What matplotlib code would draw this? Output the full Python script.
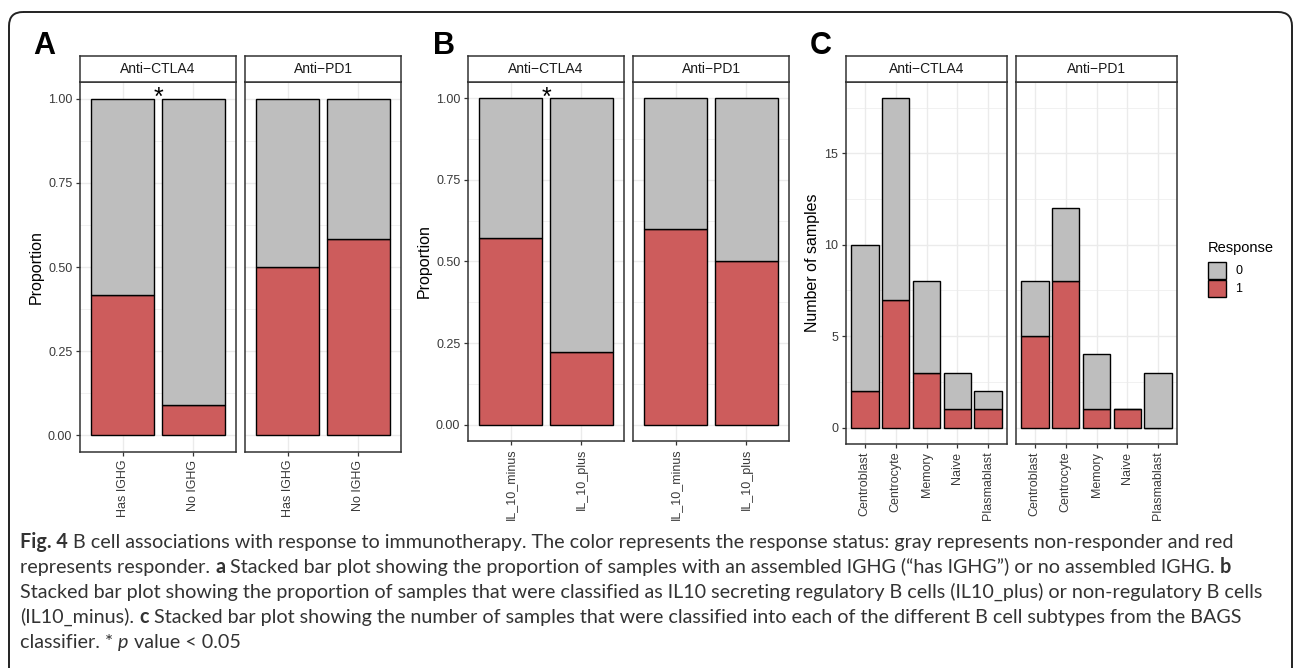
import matplotlib
matplotlib.use("Agg")
import matplotlib.pyplot as plt
from matplotlib.patches import FancyBboxPatch, Rectangle

# ----------- DATA ------------
treatments = ["Anti\u2212CTLA4", "Anti\u2212PD1"]

ighg_groups = ["Has IGHG", "No IGHG"]
ighg_ctla4_resp1 = [0.417, 0.091]
ighg_ctla4_resp0 = [0.583, 0.909]
ighg_pd1_resp1 = [0.500, 0.583]
ighg_pd1_resp0 = [0.500, 0.417]

il10_groups = ["IL_10_minus", "IL_10_plus"]
il10_ctla4_resp1 = [0.571, 0.222]
il10_ctla4_resp0 = [0.429, 0.778]
il10_pd1_resp1 = [0.600, 0.500]
il10_pd1_resp0 = [0.400, 0.500]

subtypes = ["Centroblast", "Centrocyte", "Memory", "Naive", "Plasmablast"]
bags_ctla4_resp1 = [2, 7, 3, 1, 1]
bags_ctla4_resp0 = [8, 11, 5, 2, 1]
bags_pd1_resp1 = [5, 8, 1, 1, 0]
bags_pd1_resp0 = [3, 4, 3, 0, 3]

prop_ticks = [0.0, 0.25, 0.5, 0.75, 1.0]
prop_labels = ["0.00", "0.25", "0.50", "0.75", "1.00"]
count_ticks = [0, 5, 10, 15]
legend_labels = ["0", "1"]

# ----------- STYLE ------------
W, H = 1293, 668
GRAY = "#BEBEBE"
RED = "#CD5C5C"
BORDER = "#333333"
GRID = "#EBEBEB"
PLOT_FONT = ["Liberation Sans", "DejaVu Sans"]
CAP_FONT = ["Lato", "Open Sans", "DejaVu Sans"]

plt.rcParams["font.family"] = PLOT_FONT

fig = plt.figure(figsize=(W / 100, H / 100), dpi=100)

# background axes in pixel coordinates (origin top-left)
bg = fig.add_axes([0, 0, 1, 1], zorder=-5)
bg.set_xlim(0, W)
bg.set_ylim(H, 0)
bg.axis("off")

frame = FancyBboxPatch((9, 12), 1283, 720, boxstyle="round,pad=0,rounding_size=14",
                       fill=False, edgecolor="#222222", linewidth=1.4, clip_on=True)
bg.add_patch(frame)


def px_rect(x0, y0, x1, y1):
    return [x0 / W, 1 - y1 / H, (x1 - x0) / W, (y1 - y0) / H]


def facet(x0, x1, top, bottom, title, cats, r1, r0, ylim, yticks, ylabels, yminor, show_y):
    ax = fig.add_axes(px_rect(x0, top, x1, bottom))
    pos = list(range(len(cats)))
    ax.bar(pos, r1, width=0.9, color=RED, edgecolor="black", linewidth=1.0, zorder=3)
    ax.bar(pos, r0, width=0.9, bottom=r1, color=GRAY, edgecolor="black", linewidth=1.0, zorder=3)
    ax.set_xlim(-0.6, len(cats) - 0.4)
    ax.set_ylim(*ylim)
    ax.set_xticks(pos)
    ax.set_xticklabels(cats, rotation=90)
    ax.set_yticks(yticks)
    ax.set_yticklabels(ylabels)
    ax.set_yticks(yminor, minor=True)
    ax.grid(True, which="major", color=GRID, linewidth=1.0, zorder=0)
    ax.grid(True, which="minor", axis="y", color=GRID, linewidth=0.5, zorder=0)
    ax.set_axisbelow(True)
    ax.tick_params(which="major", length=3, width=0.9, color=BORDER, pad=2.5,
                   labelsize=9, labelcolor="#3A3A3A")
    ax.tick_params(which="minor", length=0)
    if not show_y:
        ax.tick_params(axis="y", left=False, labelleft=False)
    for s in ax.spines.values():
        s.set_color(BORDER)
        s.set_linewidth(1.1)
    # strip
    st = fig.add_axes(px_rect(x0, 56, x1, top))
    st.set_xticks([])
    st.set_yticks([])
    st.set_facecolor("white")
    for s in st.spines.values():
        s.set_color(BORDER)
        s.set_linewidth(1.1)
    st.text(0.5, 0.5, title, ha="center", va="center", fontsize=10, color="#1A1A1A",
            transform=st.transAxes)
    return ax


# ----------- PANEL A ------------
a1 = facet(80, 236, 82, 452, treatments[0], ighg_groups, ighg_ctla4_resp1, ighg_ctla4_resp0,
           (-0.05, 1.05), prop_ticks, prop_labels, [0.125, 0.375, 0.625, 0.875], True)
a2 = facet(245, 401, 82, 452, treatments[1], ighg_groups, ighg_pd1_resp1, ighg_pd1_resp0,
           (-0.05, 1.05), prop_ticks, prop_labels, [0.125, 0.375, 0.625, 0.875], False)
a1.text(0.5, 1.002, "*", ha="center", va="center", fontsize=18, clip_on=False, zorder=5)

# ----------- PANEL B ------------
b1 = facet(468, 624, 82, 441, treatments[0], il10_groups, il10_ctla4_resp1, il10_ctla4_resp0,
           (-0.05, 1.05), prop_ticks, prop_labels, [0.125, 0.375, 0.625, 0.875], True)
b2 = facet(633, 789, 82, 441, treatments[1], il10_groups, il10_pd1_resp1, il10_pd1_resp0,
           (-0.05, 1.05), prop_ticks, prop_labels, [0.125, 0.375, 0.625, 0.875], False)
b1.text(0.5, 1.002, "*", ha="center", va="center", fontsize=18, clip_on=False, zorder=5)

# ----------- PANEL C ------------
c1 = facet(846, 1007, 82, 444, treatments[0], subtypes, bags_ctla4_resp1, bags_ctla4_resp0,
           (-0.9, 18.9), count_ticks, [str(t) for t in count_ticks], [2.5, 7.5, 12.5, 17.5], True)
c2 = facet(1016, 1177, 82, 444, treatments[1], subtypes, bags_pd1_resp1, bags_pd1_resp0,
           (-0.9, 18.9), count_ticks, [str(t) for t in count_ticks], [2.5, 7.5, 12.5, 17.5], False)

# axis titles and panel letters
bg.text(36, 267, "Proportion", rotation=90, ha="center", va="center", fontsize=11.5)
bg.text(424, 261, "Proportion", rotation=90, ha="center", va="center", fontsize=11.5)
bg.text(812, 263, "Number of samples", rotation=90, ha="center", va="center", fontsize=11.5)
for letter, lx in [("A", 33), ("B", 433), ("C", 810)]:
    bg.text(lx, 46, letter, ha="left", va="center", fontsize=22, fontweight="bold")

# legend
bg.text(1208, 248, "Response", ha="left", va="center", fontsize=10.5)
for i, (lab, col) in enumerate(zip(legend_labels, [GRAY, RED])):
    y0 = 262 + i * 18
    bg.add_patch(Rectangle((1208, y0), 18, 17, facecolor=col, edgecolor="black", linewidth=1.0))
    bg.text(1235, y0 + 8.5, lab, ha="left", va="center", fontsize=9)

# ----------- CAPTION ------------
caption = [
    [("Fig. 4", "bold", "normal"),
     (" B cell associations with response to immunotherapy. The color represents the response status: gray represents non-responder and red", "normal", "normal")],
    [("represents responder. ", "normal", "normal"), ("a", "bold", "normal"),
     (" Stacked bar plot showing the proportion of samples with an assembled IGHG (\u201chas IGHG\u201d) or no assembled IGHG. ", "normal", "normal"),
     ("b", "bold", "normal")],
    [("Stacked bar plot showing the proportion of samples that were classified as IL10 secreting regulatory B cells (IL10_plus) or non-regulatory B cells", "normal", "normal")],
    [("(IL10_minus). ", "normal", "normal"), ("c", "bold", "normal"),
     (" Stacked bar plot showing the number of samples that were classified into each of the different B cell subtypes from the BAGS", "normal", "normal")],
    [("classifier. * ", "normal", "normal"), ("p", "normal", "italic"), (" value < 0.05", "normal", "normal")],
]

renderer = fig.canvas.get_renderer()


def text_w(s, fs, weight, style):
    if not s:
        return 0.0
    t = bg.text(0, 0, s, fontsize=fs, fontweight=weight, fontstyle=style, family=CAP_FONT)
    w = t.get_window_extent(renderer).width
    t.remove()
    return w


def seg_w(s, fs, weight, style):
    core = s.strip(" ")
    lead = len(s) - len(s.lstrip(" "))
    trail = len(s) - len(s.rstrip(" "))
    sp = text_w("x x", fs, weight, style) - text_w("xx", fs, weight, style)
    return core, lead * sp, text_w(core, fs, weight, style), trail * sp


def line_w(line, fs):
    return sum(sum(seg_w(s, fs, w, st)[1:]) for s, w, st in line)


# fit the first caption line to the reference width
cap_fs = 13.0
for _ in range(3):
    cap_fs = cap_fs * 1213 / line_w(caption[0], cap_fs)

for i, line in enumerate(caption):
    x = 20
    y = 548 + 25 * i
    for s, w, st in line:
        core, lead, cw, trail = seg_w(s, cap_fs, w, st)
        x += lead
        bg.text(x, y, core, fontsize=cap_fs, fontweight=w, fontstyle=st, family=CAP_FONT,
                ha="left", va="baseline", color="#333333")
        x += cw + trail

fig.savefig("out.png", dpi=100)
